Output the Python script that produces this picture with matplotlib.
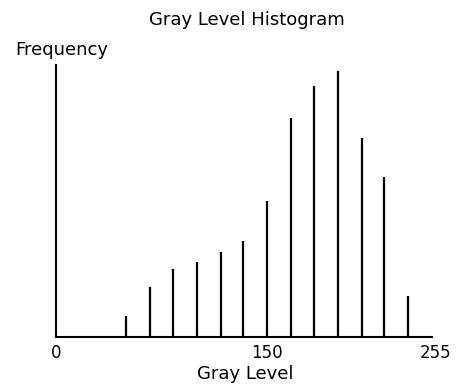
import matplotlib
matplotlib.use("Agg")
import matplotlib.pyplot as plt
from matplotlib.transforms import ScaledTranslation

# gray levels of the histogram lines and their frequencies
levels = [50, 67, 83, 100, 117, 133, 150, 167, 183, 200, 217, 233, 250]
freq = [21, 50, 68, 75, 85, 96, 136, 219, 251, 266, 199, 160, 41]

tick_pos = [0, 150, 267]
tick_labels = ["0", "150", "255"]

plt.rcParams["font.family"] = "DejaVu Sans"

fig = plt.figure(figsize=(4.59, 3.85), dpi=100)
ax = fig.add_axes([56 / 459, 48 / 385, 376 / 459, 272 / 385])

ax.vlines(levels, 0, freq, colors="black", linewidth=1.6)

ax.spines["top"].set_visible(False)
ax.spines["right"].set_visible(False)
ax.spines["left"].set_linewidth(1.5)
ax.spines["bottom"].set_linewidth(1.5)
ax.set_yticks([])
ax.set_xticks(tick_pos)
ax.set_xticklabels(tick_labels, fontsize=12)
ax.tick_params(axis="x", length=0, pad=5)
ax.set_xlim(0, 267)
ax.set_ylim(0, 272)

# the "255" label sits a little past the end of the axis line
lab = ax.get_xticklabels()[2]
lab.set_transform(lab.get_transform() + ScaledTranslation(0.04, 0, fig.dpi_scale_trans))

fig.text(247 / 459, 1 - 20 / 385, "Gray Level Histogram", ha="center", va="center", fontsize=13)
fig.text(15 / 459, 1 - 50 / 385, "Frequency", ha="left", va="center", fontsize=13)
fig.text(245 / 459, 1 - 374 / 385, "Gray Level", ha="center", va="center", fontsize=13)

fig.savefig("out.png", dpi=100)
